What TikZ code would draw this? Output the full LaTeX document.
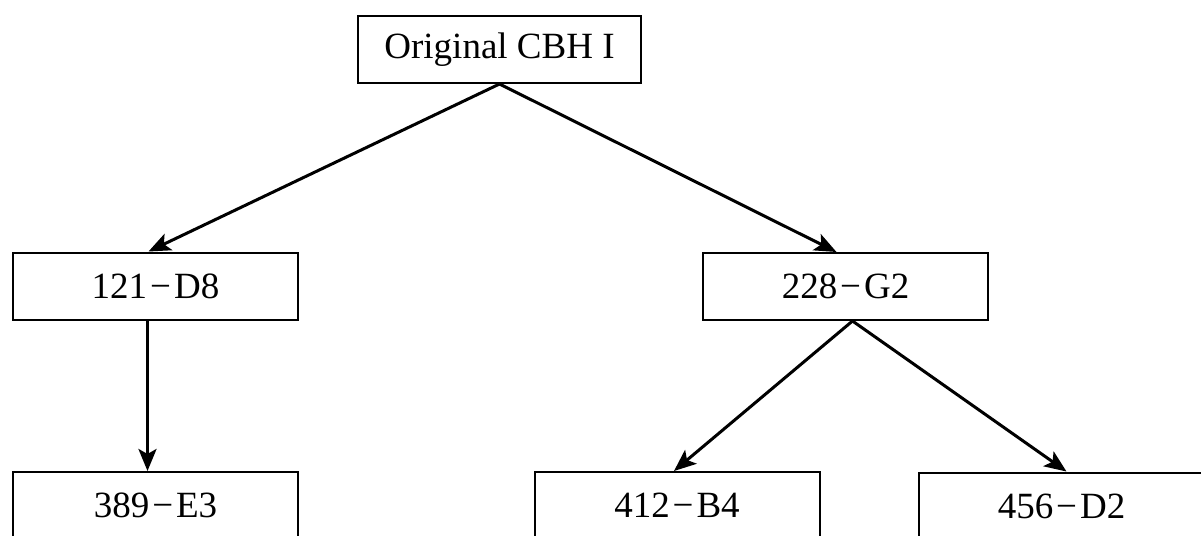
\documentclass[tikz,border=0pt]{standalone}
\usepackage{fontspec}
\setmainfont{Liberation Serif}
\usetikzlibrary{arrows.meta}
\newcommand{\mydash}{\hspace{0.08em}−\hspace{0.08em}}
\begin{document}
\begin{tikzpicture}[x=1pt,y=-1pt,
  box/.style={draw=black,line width=2pt,minimum width=285pt,minimum height=67pt,inner sep=0pt,
    font=\fontsize{37}{42}\selectfont},
  conn/.style={line width=3pt,-{Stealth[length=22pt,width=18pt,inset=5pt]}}]
\useasboundingbox (0,0) rectangle (1201,535);
\clip (0,0) rectangle (1201,535);
\node[box,minimum width=283pt] (top) at (499.5,49.5) {Original CBH I};
\node[box] (a) at (155.5,286) {121\mydash D8};
\node[box] (b) at (845.5,286.5) {228\mydash G2};
\node[box] (c) at (155.5,505.5) {389\mydash E3};
\node[box] (d) at (677,505.5) {412\mydash B4};
\node[box] (e) at (1061.5,506) {456\mydash D2};
\draw[conn] (top.south) -- ([xshift=-7pt]a.north);
\draw[conn] (top.south) -- ([xshift=-9pt]b.north);
\draw[conn] ([xshift=-8pt]a.south) -- ([xshift=-8pt]c.north);
\draw[conn] ([xshift=7pt]b.south) -- ([xshift=-3pt]d.north);
\draw[conn] ([xshift=7pt]b.south) -- ([xshift=5pt]e.north);
\end{tikzpicture}
\end{document}
